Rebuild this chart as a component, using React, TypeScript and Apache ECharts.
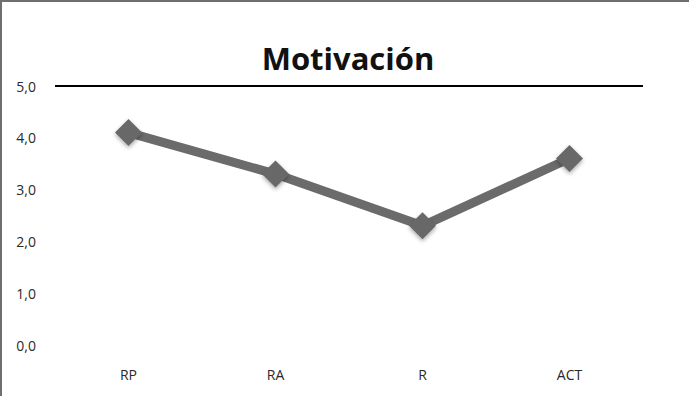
import React, { useEffect, useRef } from "react";
import * as echarts from "echarts";

const categories = ["RP", "RA", "R", "ACT"];
const motivacion = [4.1, 3.3, 2.3, 3.6];
const yMin = 0;
const yMax = 5;
const yInterval = 1;
const titleText = "Motivación";

export default function App() {
  const ref = useRef<HTMLDivElement>(null);
  useEffect(() => {
    if (!ref.current) return;
    const chart = echarts.init(ref.current, undefined, { renderer: "svg" });
    chart.setOption({
      animation: false,
      backgroundColor: "#ffffff",
      title: {
        text: titleText,
        left: 343,
        textAlign: "center",
        top: 37,
        textStyle: {
          fontFamily: "Open Sans",
          fontWeight: "bold",
          fontSize: 31,
          color: "#111111",
        },
      },
      grid: { left: 55, right: 46, top: 86, bottom: 51 },
      xAxis: {
        type: "category",
        data: categories,
        boundaryGap: true,
        axisLine: { show: false },
        axisTick: { show: false },
        axisLabel: {
          margin: 22,
          color: "#2a2a2a",
          fontFamily: "Open Sans",
          fontSize: 14,
        },
      },
      yAxis: {
        type: "value",
        min: yMin,
        max: yMax,
        interval: yInterval,
        axisLine: { show: false },
        axisTick: { show: false },
        splitLine: { show: false },
        axisLabel: {
          margin: 19,
          color: "#2a2a2a",
          fontFamily: "Open Sans",
          fontSize: 14,
          formatter: (v: number) => v.toFixed(1).replace(".", ","),
        },
      },
      series: [
        {
          type: "line",
          data: motivacion,
          symbol: "diamond",
          symbolSize: 27,
          lineStyle: { color: "#6b6b6b", width: 9 },
          itemStyle: {
            color: "#676767",
            shadowColor: "rgba(0,0,0,0.35)",
            shadowBlur: 4,
            shadowOffsetY: 2,
          },
          markLine: {
            silent: true,
            symbol: "none",
            label: { show: false },
            lineStyle: { color: "#000000", width: 2, type: "solid" },
            data: [{ yAxis: yMax }],
          },
        },
      ],
      graphic: [
        {
          type: "line",
          shape: { x1: 0, y1: 1, x2: 689, y2: 1 },
          style: { stroke: "#6f6f6f", lineWidth: 2 },
        },
        {
          type: "line",
          shape: { x1: 1, y1: 0, x2: 1, y2: 396 },
          style: { stroke: "#6f6f6f", lineWidth: 2 },
        },
      ],
    });
    return () => chart.dispose();
  }, []);
  return (
    <div
      ref={ref}
      style={{ width: 689, height: 396, position: "absolute", left: 0, top: 0 }}
    />
  );
}
